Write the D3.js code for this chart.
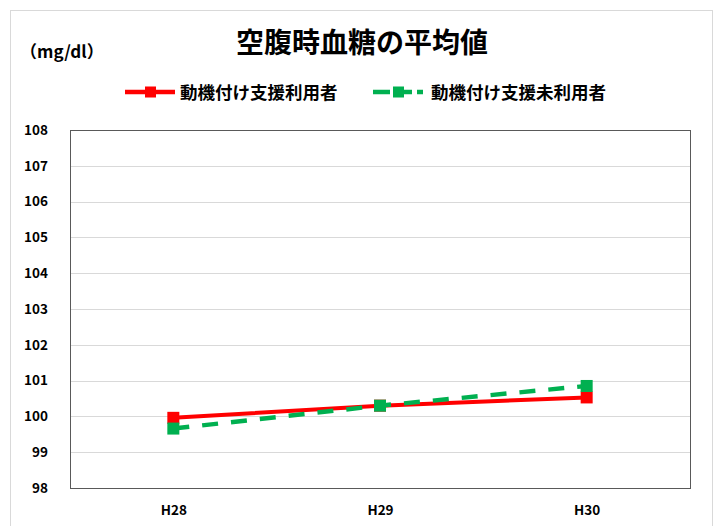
<!DOCTYPE html>
<html><head><meta charset="utf-8">
<script src="https://cdn.jsdelivr.net/npm/d3@7"></script>
<style>body{margin:0;background:#fff}svg{display:block}</style>
</head><body>
<script>
const categories = ["H28", "H29", "H30"];
const seriesNames = ["動機付け支援利用者", "動機付け支援未利用者"];
const usedValues = [99.96, 100.3, 100.53];
const unusedValues = [99.66, 100.3, 100.85];
const yTicks = [98, 99, 100, 101, 102, 103, 104, 105, 106, 107, 108];
const title = "空腹時血糖の平均値";
const unitLabel = "（mg/dl）";

const W = 719, H = 526;
const m = {left: 70, right: 29, top: 130, bottom: 38};
const svg = d3.select("body").append("svg").attr("width", W).attr("height", H);
const font = "'Noto Sans CJK JP', 'Liberation Sans', sans-serif";

svg.append("rect").attr("x", 10.5).attr("y", 10.5).attr("width", 702).attr("height", 530)
  .attr("fill", "#fff").attr("stroke", "#d9d9d9");

const x = d3.scalePoint().domain(categories).range([m.left, W - m.right]).padding(0.5);
const y = d3.scaleLinear().domain([98, 108]).range([H - m.bottom, m.top]);

// gridlines
svg.append("g").selectAll("line").data(yTicks.slice(1, -1)).join("line")
  .attr("x1", m.left).attr("x2", W - m.right)
  .attr("y1", d => Math.round(y(d)) + 0.5).attr("y2", d => Math.round(y(d)) + 0.5)
  .attr("stroke", "#d9d9d9").attr("stroke-width", 1);

// plot border
svg.append("rect").attr("x", m.left + 0.5).attr("y", m.top + 0.5)
  .attr("width", W - m.right - m.left).attr("height", H - m.bottom - m.top)
  .attr("fill", "none").attr("stroke", "#595959").attr("stroke-width", 1);

// y axis
const yAxis = d3.axisLeft(y).tickValues(yTicks).tickSize(0).tickPadding(22).tickFormat(d3.format("d"));
const gy = svg.append("g").attr("transform", `translate(${m.left},0)`).call(yAxis);
gy.select(".domain").remove();
gy.selectAll("text").attr("font-family", font).attr("font-size", 13.5).attr("font-weight", "bold").attr("fill", "#000");

// x axis
const xAxis = d3.axisBottom(x).tickSize(0).tickPadding(17);
const gx = svg.append("g").attr("transform", `translate(0,${H - m.bottom})`).call(xAxis);
gx.select(".domain").remove();
gx.selectAll("text").attr("font-family", font).attr("font-size", 13.5).attr("font-weight", "bold").attr("fill", "#000");

const line = d3.line().x((d, i) => x(categories[i])).y(d => y(d));

const series = [
  {name: seriesNames[0], values: usedValues, color: "#ff0000", dash: null, w: 4},
  {name: seriesNames[1], values: unusedValues, color: "#00b050", dash: "16,13", w: 4.5}
];

series.forEach(s => {
  svg.append("path").datum(s.values).attr("d", line).attr("fill", "none")
    .attr("stroke", s.color).attr("stroke-width", s.w).attr("stroke-dasharray", s.dash);
  svg.append("g").selectAll("rect").data(s.values).join("rect")
    .attr("x", (d, i) => x(categories[i]) - 6).attr("y", d => y(d) - 6)
    .attr("width", 12).attr("height", 12).attr("fill", s.color);
});

// title
svg.append("text").attr("x", 362).attr("y", 53).attr("text-anchor", "middle")
  .attr("font-family", font).attr("font-size", 28).attr("font-weight", "bold").text(title);
svg.append("text").attr("x", 20).attr("y", 58)
  .attr("font-family", font).attr("font-size", 17).attr("font-weight", "bold").text(unitLabel);

// legend
const legendPos = [{x: 125, tx: 180}, {x: 373, tx: 431}];
series.forEach((s, i) => {
  const lx = legendPos[i].x, ly = 92;
  svg.append("line").attr("x1", lx).attr("x2", lx + 50).attr("y1", ly).attr("y2", ly)
    .attr("stroke", s.color).attr("stroke-width", 4.5).attr("stroke-dasharray", s.dash ? "17,5" : null);
  svg.append("rect").attr("x", lx + 20).attr("y", ly - 5.5).attr("width", 11).attr("height", 11).attr("fill", s.color);
  svg.append("text").attr("x", legendPos[i].tx).attr("y", ly + 6.5)
    .attr("font-family", font).attr("font-size", 17.5).attr("font-weight", "bold").text(s.name);
});
</script>
</body></html>
